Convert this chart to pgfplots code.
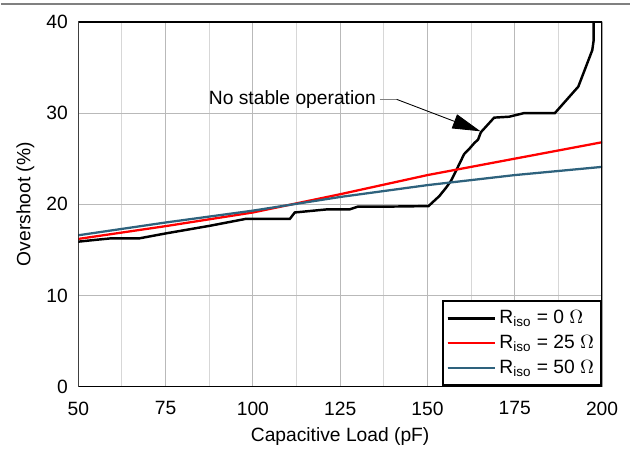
\documentclass[border=0pt]{standalone}
\usepackage{fontspec}
\setmainfont{Liberation Sans}
\usepackage{pgfplots}
\pgfplotsset{compat=1.18}
\usetikzlibrary{arrows.meta}
\definecolor{tiblue}{RGB}{46,98,125}
\definecolor{gridmaj}{RGB}{185,185,185}
\definecolor{gridmin}{RGB}{215,215,215}

\begin{document}
\begin{tikzpicture}[font=\fontsize{11}{13}\selectfont]
\begin{axis}[
    name=a, at={(0,0)}, anchor=south west,
    scale only axis, width=299.5pt, height=208.6pt,
    xmin=50, xmax=200, ymin=0, ymax=40,
    xtick={50,75,...,200}, ytick={0,10,...,40},
    minor xtick={62.5,87.5,112.5,137.5,162.5,187.5},
    grid=both,
    major grid style={gridmaj, line width=0.6pt},
    minor grid style={gridmin, line width=0.6pt},
    tick style={draw=none},
    axis line style={draw=none},
    xticklabel style={yshift=-5pt},
    yticklabel style={xshift=-2.5pt},
    xlabel={Capacitive Load (pF)}, ylabel={Overshoot (\%)},
    /pgf/number format/assume math mode=true,
    legend style={at={(1,0)}, anchor=south east, draw=black, line width=1.3pt,
        fill=white, inner xsep=2pt, inner ysep=3.5pt, row sep=1pt,
        cells={anchor=west}},
    legend image code/.code={\path (0pt,0pt) -- (27pt,0pt);
        \draw[#1] (0pt,0pt) -- (21.7pt,0pt);},
]
\addplot[black, line width=1.4pt] coordinates {
    (50,15.9) (55,16.1) (59,16.25) (67.3,16.25) (75,16.8) (87.8,17.65)
    (98,18.4) (110.6,18.4) (112,19.1) (121.5,19.45) (127.8,19.45) (130.1,19.75)
    (140,19.75) (150.3,19.8) (153.4,20.9) (155.3,21.8) (156.8,22.6) (158.6,24.0)
    (160.5,25.5) (161.8,26.0) (163.4,26.7) (164.5,27.1) (165.3,27.9) (169.1,29.5)
    (173.4,29.6) (177.7,30.0) (186.5,30.0) (193.2,32.9) (197.2,36.9)
    (197.6,38.0) (197.6,40)
};
\addplot[red, line width=1.3pt] coordinates {
    (50,16.2) (75,17.6) (100,19.1) (125,21.1) (150,23.2) (175,25.0) (200,26.8)
};
\addplot[tiblue, line width=1.3pt] coordinates {
    (50,16.6) (75,18.0) (100,19.3) (125,20.8) (150,22.1) (175,23.2) (200,24.1)
};
\legend{R\textsubscript{iso} = 0 $\Omega$, R\textsubscript{iso} = 25 $\Omega$, R\textsubscript{iso} = 50 $\Omega$}
\draw[line width=1.3pt] (rel axis cs:0,0) rectangle (rel axis cs:1,1);
\node[anchor=east, inner sep=0pt] at (axis cs:135.3,31.5) {No stable operation};
\draw[gray, line width=0.8pt] (axis cs:136.3,31.5) -- (axis cs:141.2,31.5);
\draw[line width=0.5pt, -{Triangle[length=16pt,width=8.5pt]}] (axis cs:141.2,31.5) -- (axis cs:165.2,28.0);
\end{axis}
\path (a.south west) ++(-44.2pt,-33.6pt);
\path (a.north east) ++(16pt,12.5pt);
\draw[gray, line width=1.1pt] (a.north west) ++(-44.2pt,10.2pt) -- ++(359.7pt,0pt);
\end{tikzpicture}
\end{document}
